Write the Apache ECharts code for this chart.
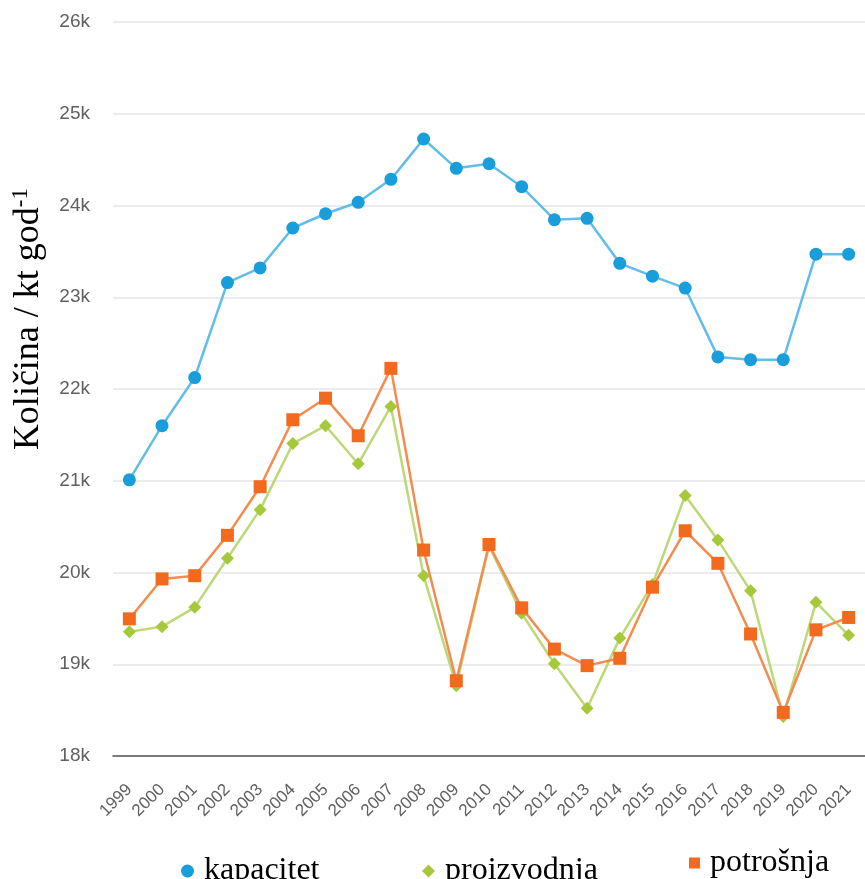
<!DOCTYPE html>
<html>
<head>
<meta charset="utf-8">
<script src="https://cdn.jsdelivr.net/npm/echarts@6/dist/echarts.min.js"></script>
<style>html,body{margin:0;padding:0;background:#fff}#c{width:865px;height:879px}</style>
</head>
<body>
<div id="c"></div>
<script>
const years = ['1999','2000','2001','2002','2003','2004','2005','2006','2007','2008','2009','2010','2011','2012','2013','2014','2015','2016','2017','2018','2019','2020','2021'];
const kapacitet = [21010,21600,22125,23160,23320,23755,23910,24035,24285,24725,24405,24455,24205,23845,23860,23370,23230,23100,22350,22320,22320,23470,23470];
const proizvodnja = [19355,19410,19620,20155,20685,21405,21600,21185,21810,19965,18765,20290,19555,19005,18520,19285,19870,20840,20355,19800,18430,19675,19315];
const potrosnja = [19495,19930,19965,20405,20935,21665,21900,21490,22225,20245,18820,20305,19615,19165,18985,19065,19840,20455,20100,19330,18475,19375,19510];
const seriesNames = ['kapacitet','proizvodnja','potrošnja'];

const chart = echarts.init(document.getElementById('c'));
const legendStyle = {fontFamily:'Liberation Serif', fontSize:32, color:'#000', padding:[0,0,0,5]};
chart.setOption({
  animation:false,
  grid:{left:113, right:-10, top:22, bottom:123, containLabel:false},
  xAxis:{
    type:'category', data:years, boundaryGap:true,
    axisLine:{lineStyle:{color:'#555', width:1.5}},
    axisTick:{show:false},
    axisLabel:{rotate:45, margin:31, color:'#606060', fontFamily:'Liberation Sans', fontSize:17, interval:0}
  },
  yAxis:{
    type:'value', min:18000, max:26000, interval:1000,
    axisLine:{show:false}, axisTick:{show:false},
    splitLine:{lineStyle:{color:'#e6e6e6', width:1.5}},
    axisLabel:{formatter:v=>(v/1000)+'k', color:'#606060', fontFamily:'Liberation Sans', fontSize:19, margin:23}
  },
  legend:[
    {data:[seriesNames[0]], left:176, top:850, icon:'circle', itemWidth:13, itemHeight:13, textStyle:legendStyle},
    {data:[seriesNames[1]], left:417, top:850, icon:'diamond', itemWidth:13, itemHeight:13, textStyle:legendStyle},
    {data:[seriesNames[2]], left:684, top:842, icon:'rect', itemWidth:11, itemHeight:11, textStyle:legendStyle}
  ],
  graphic:[{
    type:'text', left:9, top:188, rotation:Math.PI/2,
    style:{
      text:'{m|Količina / kt god}{s|-1}',
      rich:{
        m:{fontFamily:'Liberation Serif', fontSize:36, fill:'#000'},
        s:{fontFamily:'Liberation Serif', fontSize:23, fill:'#000', verticalAlign:'top', padding:[0,0,16,0]}
      }
    }
  }],
  series:[
    {name:seriesNames[0], type:'line', data:kapacitet, symbol:'circle', symbolSize:13,
     itemStyle:{color:'#1a9ddb'}, lineStyle:{color:'#62bde8', width:2.5}},
    {name:seriesNames[1], type:'line', data:proizvodnja, symbol:'diamond', symbolSize:13,
     itemStyle:{color:'#a6c93b'}, lineStyle:{color:'#bcd877', width:2.5}},
    {name:seriesNames[2], type:'line', data:potrosnja, symbol:'rect', symbolSize:13,
     itemStyle:{color:'#f26a1e'}, lineStyle:{color:'#f48c52', width:2.5}}
  ]
});
</script>
</body>
</html>
